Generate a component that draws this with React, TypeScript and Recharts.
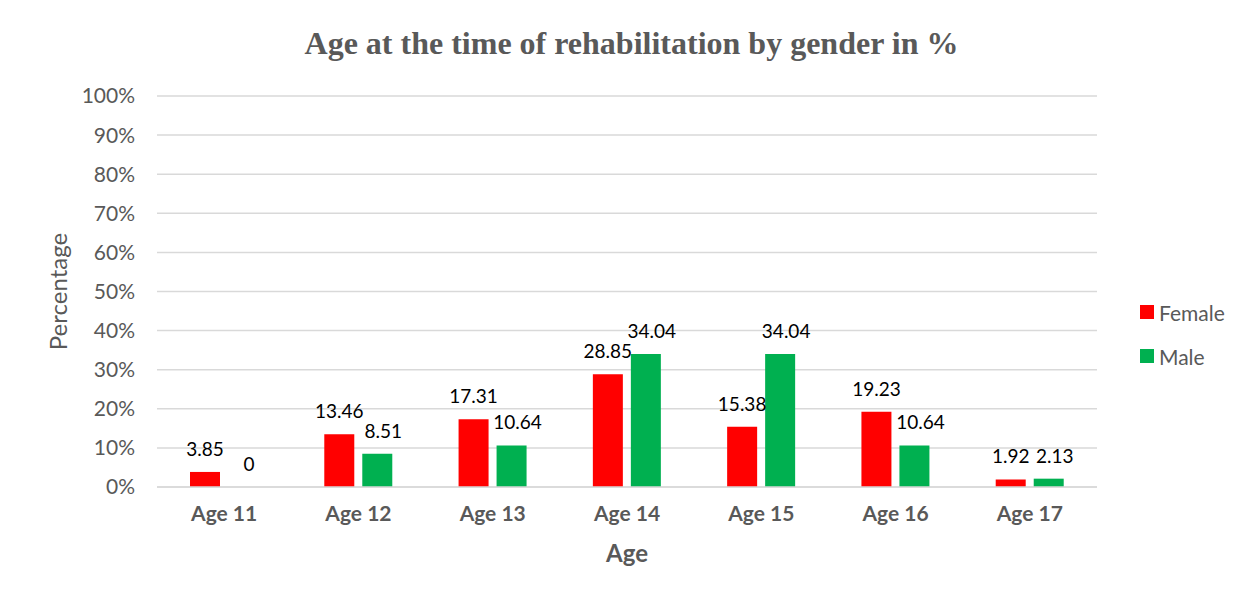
import { BarChart, Bar, XAxis, YAxis, CartesianGrid, Legend, LabelList, Label } from 'recharts';

const ages = ['Age 11', 'Age 12', 'Age 13', 'Age 14', 'Age 15', 'Age 16', 'Age 17'];
const female = [3.85, 13.46, 17.31, 28.85, 15.38, 19.23, 1.92];
const male = [0, 8.51, 10.64, 34.04, 34.04, 10.64, 2.13];
const yTicks = [0, 10, 20, 30, 40, 50, 60, 70, 80, 90, 100];

const data = ages.map((age, i) => ({ age, female: female[i], male: male[i] }));

const FONT = 'Lato, "Open Sans", sans-serif';
const GREY = '#595959';
const RED = '#ff0000';
const GREEN = '#00b050';

// value labels above each bar; dx nudges a series sideways like the original
function makeValueLabel(dx: number) {
  return function ValueLabel(props: any) {
    const { x, y, width, value } = props;
    if (value === undefined || value === null) return null;
    return (
      <text
        x={Number(x) + Number(width) / 2 + dx}
        y={Number(y) - 16}
        textAnchor="middle"
        style={{ fontFamily: FONT, fontSize: 19, fill: '#000' }}
      >
        {String(value)}
      </text>
    );
  };
}

function LegendBox() {
  const items = [
    { name: 'Female', color: RED },
    { name: 'Male', color: GREEN },
  ];
  return (
    <div style={{ fontFamily: FONT, fontSize: 21, color: GREY }}>
      {items.map((it) => (
        <div key={it.name} style={{ display: 'flex', alignItems: 'center', height: 44 }}>
          <span style={{ width: 14, height: 14, background: it.color, marginRight: 5, display: 'inline-block' }} />
          {it.name}
        </div>
      ))}
    </div>
  );
}

export default function App() {
  return (
    <div style={{ margin: -8, position: 'relative', width: 1253, height: 602, background: '#fff', overflow: 'hidden' }}>
      <div
        style={{
          position: 'absolute',
          left: 7,
          top: 4,
          width: 1260,
          height: 610,
          border: '1px solid #d4d4d4',
          boxSizing: 'border-box',
        }}
      />
      <div
        style={{
          position: 'absolute',
          left: 0,
          top: 25,
          width: 1253,
          textAlign: 'center',
          fontFamily: '"Liberation Serif", "Times New Roman", serif',
          fontWeight: 'bold',
          fontSize: 32,
          color: GREY,
          paddingLeft: 10,
          boxSizing: 'border-box',
        }}
      >
        Age at the time of rehabilitation by gender in %
      </div>
      <div style={{ position: 'absolute', left: 0, top: 0 }}>
        <BarChart
          width={1253}
          height={602}
          data={data}
          margin={{ top: 96, right: 156, bottom: 30, left: 30 }}
          barSize={30}
          barGap={8}
        >
          <CartesianGrid vertical={false} stroke="#d9d9d9" strokeWidth={1.5} />
          <XAxis
            dataKey="age"
            height={85}
            tickLine={false}
            tickSize={0}
            tickMargin={19}
            axisLine={{ stroke: '#d9d9d9', strokeWidth: 1.5 }}
            tick={{ fontFamily: FONT, fontSize: 21, fontWeight: 'bold', fill: GREY }}
          >
            <Label
              value="Age"
              position="insideBottom"
              offset={10}
              style={{ fontFamily: FONT, fontSize: 24, fontWeight: 'bold', fill: GREY }}
            />
          </XAxis>
          <YAxis
            width={127}
            domain={[0, 100]}
            ticks={yTicks}
            interval={0}
            tickFormatter={(v: number) => `${v}%`}
            tickLine={false}
            axisLine={false}
            tickSize={0}
            tickMargin={22}
            tick={{ fontFamily: FONT, fontSize: 21, fill: GREY }}
          >
            <Label
              value="Percentage"
              angle={-90}
              position="insideLeft"
              offset={28}
              style={{ fontFamily: FONT, fontSize: 24, fill: GREY, textAnchor: 'middle' }}
            />
          </YAxis>
          <Legend
            layout="horizontal"
            align="center"
            verticalAlign="middle"
            content={() => <LegendBox />}
            wrapperStyle={{ left: 1140, top: 290, width: 113, height: 88 }}
          />
          <Bar dataKey="female" name="Female" fill={RED} isAnimationActive={false}>
            <LabelList dataKey="female" content={makeValueLabel(0)} />
          </Bar>
          <Bar
            dataKey="male"
            name="Male"
            fill={GREEN}
            isAnimationActive={false}
            minPointSize={(v: number) => (v === 0 ? 0.01 : 0)}
          >
            <LabelList dataKey="male" content={makeValueLabel(6)} />
          </Bar>
        </BarChart>
      </div>
    </div>
  );
}
